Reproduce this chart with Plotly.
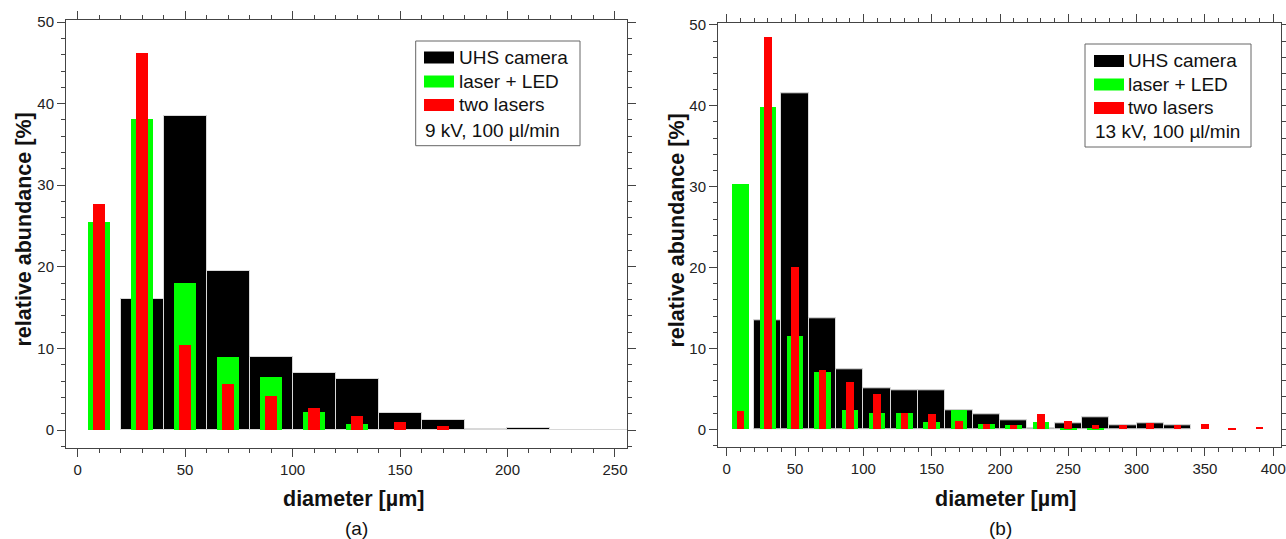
import plotly.graph_objects as go

W, H = 1286, 539
FONT = "Liberation Sans, Arial, sans-serif"

series_names = ["UHS camera", "laser + LED", "two lasers"]
series_colors = ["#000000", "#00ff00", "#ff0000"]

# ---- panel (a): 9 kV, 100 µl/min ----
a_uhs_x = [30, 50, 70, 90, 110, 130, 150, 170, 190, 210, 230, 250]
a_uhs_y = [16.1, 38.5, 19.5, 8.9, 7.0, 6.3, 2.1, 1.2, 0.15, 0.2, 0.05, 0.05]
a_led_x = [10, 30, 50, 70, 90, 110, 130]
a_led_y = [25.5, 38.1, 18.0, 8.9, 6.5, 2.2, 0.8]
a_two_x = [10, 30, 50, 70, 90, 110, 130, 150, 170]
a_two_y = [27.7, 46.2, 10.4, 5.7, 4.2, 2.7, 1.7, 1.0, 0.5]

# ---- panel (b): 13 kV, 100 µl/min ----
b_uhs_x = [30, 50, 70, 90, 110, 130, 150, 170, 190, 210, 230, 250, 270, 290, 310, 330]
b_uhs_y = [13.5, 41.5, 13.7, 7.4, 5.1, 4.85, 4.85, 2.3, 1.8, 1.15, 0.1, 0.75, 1.45, 0.5, 0.75, 0.5]
b_led_x = [10, 30, 50, 70, 90, 110, 130, 150, 170, 190, 210, 230, 250, 270]
b_led_y = [30.3, 39.8, 11.5, 7.0, 2.35, 1.95, 1.95, 0.9, 2.35, 0.65, 0.5, 0.9, 0.1, 0.15]
b_two_x = [10, 30, 50, 70, 90, 110, 130, 150, 170, 190, 210, 230, 250, 270, 290, 310, 330, 350, 370, 390]
b_two_y = [2.2, 48.5, 20.0, 7.3, 5.8, 4.3, 2.0, 1.85, 1.0, 0.65, 0.55, 1.9, 1.05, 0.55, 0.55, 0.75, 0.45, 0.6, 0.08, 0.3]

a_note = "9 kV, 100 µl/min"
b_note = "13 kV, 100 µl/min"
x_title = "diameter [µm]"
y_title = "relative abundance [%]"
panel_labels = ["(a)", "(b)"]

fig = go.Figure()

def add_panel(xs, ys, widths, xa, ya):
    for i, (x, y, w) in enumerate(zip(xs, ys, widths)):
        line = dict(color="#d8d8d8", width=1) if i == 0 else dict(width=0)
        fig.add_trace(go.Bar(x=x, y=y, width=w, marker=dict(color=series_colors[i], line=line),
                             name=series_names[i], showlegend=False, xaxis=xa, yaxis=ya))

add_panel([a_uhs_x, a_led_x, a_two_x], [a_uhs_y, a_led_y, a_two_y], [20, 10.3, 5.3], "x", "y")
add_panel([b_uhs_x, b_led_x, b_two_x], [b_uhs_y, b_led_y, b_two_y], [20, 12, 5.6], "x2", "y2")

def px(x):
    return x / W

def py(y):
    return 1 - y / H

def axis(domain, rng, dtick, mdtick, anchor):
    return dict(domain=domain, range=rng, autorange=False, anchor=anchor, showline=True,
                linecolor="#444", linewidth=1, mirror="allticks", ticks="outside", ticklen=8,
                tickwidth=1, tickcolor="#444", tick0=0, dtick=dtick, showgrid=False,
                zeroline=False, automargin=False,
                minor=dict(dtick=mdtick, tick0=0, ticks="outside", ticklen=4, tickwidth=1,
                           tickcolor="#444", showgrid=False),
                tickfont=dict(family=FONT, size=15, color="#222"))

xa1 = axis([px(66), px(627)], [-5.4, 255.6], 50, 10, "y")
ya1 = axis([py(448), py(20)], [-2.2, 50.25], 10, 2, "x")
xa2 = axis([px(718), px(1280.5)], [-6.4, 405.3], 50, 10, "y2")
ya2 = axis([py(446.7), py(23.3)], [-2.15, 50.2], 10, 2, "x2")

shapes = []
annotations = []

def legend(box, sw_x, rows, text_x, note_x, note):
    x0, x1, y0, y1 = box
    shapes.append(dict(type="rect", xref="paper", yref="paper", x0=px(x0), x1=px(x1),
                       y0=py(y1), y1=py(y0), line=dict(color="#666", width=1),
                       fillcolor="white", layer="above"))
    for i, name in enumerate(series_names):
        yc = rows[i]
        shapes.append(dict(type="rect", xref="paper", yref="paper", x0=px(sw_x), x1=px(sw_x + 30),
                           y0=py(yc + 6), y1=py(yc - 6), line=dict(width=0),
                           fillcolor=series_colors[i], layer="above"))
        annotations.append(dict(text=name, xref="paper", yref="paper", x=px(text_x), y=py(yc),
                                xanchor="left", yanchor="middle", showarrow=False,
                                font=dict(family=FONT, size=19, color="#111")))
    annotations.append(dict(text=note, xref="paper", yref="paper", x=px(note_x), y=py(rows[3]),
                            xanchor="left", yanchor="middle", showarrow=False,
                            font=dict(family=FONT, size=19, color="#111")))

legend((415.7, 580, 41, 145.7), 424, [57.5, 81.5, 105, 130], 457, 423, a_note)
legend((1085, 1251, 44, 147), 1094, [61, 84.5, 108, 131.5], 1126, 1093, b_note)

def text(t, x, y, size, bold=False, angle=0):
    annotations.append(dict(text=f"<b>{t}</b>" if bold else t, xref="paper", yref="paper",
                            x=px(x), y=py(y), xanchor="center", yanchor="middle",
                            showarrow=False, textangle=angle,
                            font=dict(family=FONT, size=size, color="#111")))

text(x_title, 353.4, 499, 21.5, bold=True)
text(x_title, 1005.5, 499, 21.5, bold=True)
text(y_title, 23, 229.5, 21.5, bold=True, angle=-90)
text(y_title, 676.5, 231, 21.5, bold=True, angle=-90)
text(panel_labels[0], 356.5, 528, 19)
text(panel_labels[1], 1000.5, 528, 19)

fig.update_layout(width=W, height=H, margin=dict(l=0, r=0, t=0, b=0, pad=0),
                  paper_bgcolor="white", plot_bgcolor="white", barmode="overlay",
                  bargap=0, xaxis=xa1, yaxis=ya1, xaxis2=xa2, yaxis2=ya2,
                  shapes=shapes, annotations=annotations, showlegend=False)

fig.write_html("out.html")
